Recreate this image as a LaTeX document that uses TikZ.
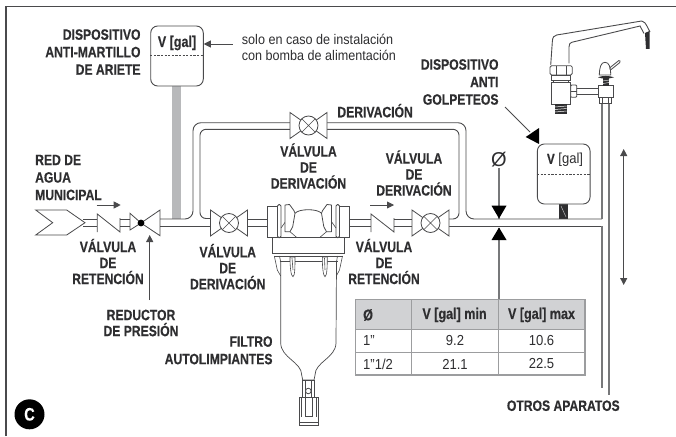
\documentclass[tikz,border=0pt]{standalone}
\usepackage{fontspec}
\setmainfont{Liberation Sans}
\newfontfamily\narrowfont[FakeStretch=0.9]{Liberation Sans}
\newfontfamily\narrowbold[FakeStretch=0.81,FakeBold=0.35]{Liberation Sans Bold}
\usetikzlibrary{arrows.meta}
\definecolor{ink}{HTML}{2E2E30}
\definecolor{lineink}{HTML}{4A4A4C}
\definecolor{grayink}{HTML}{77787A}
\definecolor{graypipe}{HTML}{B8B9BB}
\definecolor{headfill}{HTML}{D1D2D4}
\definecolor{gridline}{HTML}{9C9D9F}
\tikzset{
  lab/.style={text=ink,inner sep=0pt,align=center,font=\narrowbold\fontsize{15}{16}\selectfont},
  labtight/.style={lab,font=\narrowbold\fontsize{15}{17.5}\selectfont},
  note/.style={text=ink,inner sep=0pt,align=left,font=\narrowfont\fontsize{14}{16.3}\selectfont},
  cell/.style={text=ink,inner sep=0pt,font=\narrowfont\fontsize{14.5}{16}\selectfont},
  headcell/.style={text=ink,inner sep=0pt,font=\narrowbold\fontsize{15.5}{16}\selectfont},
  pipe/.style={draw=lineink,line width=0.9pt},
  part/.style={draw=lineink,line width=0.8pt,fill=white},
  thin part/.style={draw=lineink,line width=0.6pt},
  tank/.style={draw=lineink,line width=0.9pt,fill=white,rounded corners=7pt},
  lead/.style={draw=lineink,line width=0.9pt,-{Triangle[length=7pt,width=7pt]}},
  pics/xvalve/.style={code={
    \draw[part,line join=miter] (-18.5,-13) -- (18.5,13) -- (18.5,-13) -- (-18.5,13) -- cycle;
    \draw[part] (0,0) circle (9.5);
    \draw[thin part] (-6.7,-6.7) -- (6.7,6.7) (-6.7,6.7) -- (6.7,-6.7);
  }}
}
\begin{document}
\begin{tikzpicture}[x=1pt,y=-1pt]
\useasboundingbox (0,0) rectangle (676,436);
\fill[white] (0,0) rectangle (676,436);
% frame
\draw[draw=lineink,line width=1.2pt] (6,436) -- (6,6.5) -- (676,6.5);

% grey riser and lower tank stub
\fill[graypipe] (172.3,86) rectangle (181,219);
\fill[ink] (559,204) rectangle (568.3,219);
\draw[graypipe,line width=0.5pt] (561,206) -- (566,217);

% pipes
\draw[pipe] (83,219) -- (97,219) (83,226.7) -- (97,226.7);
\draw[pipe] (120,219) -- (130,219) (120,226.7) -- (130,226.7);
\draw[pipe,rounded corners=8pt] (160,219) -- (193,219) -- (193,122.7) -- (290,122.7);
\draw[pipe,rounded corners=6pt] (210.5,218.5) -- (200,218.5) -- (200,129.3) -- (290,129.3);
\draw[pipe] (160,226.7) -- (210.5,226.7);
\draw[pipe,rounded corners=8pt] (327,122.7) -- (466,122.7) -- (466,219) -- (602,219);
\draw[pipe,rounded corners=6pt] (327,129.3) -- (459,129.3) -- (459,219) -- (449,219);
\draw[pipe] (449,226.3) -- (602,226.3);
\draw[pipe] (247,219) -- (267.3,219) (247,226.7) -- (267.3,226.7);
\draw[pipe] (349.3,219) -- (371,219) (349.3,226.7) -- (371,226.7);
\draw[pipe] (394,219) -- (412,219) (394,226.7) -- (412,226.7);
% outlet riser
\draw[draw=grayink,line width=1.1pt] (602,103) -- (602,219);
\draw[draw=grayink,line width=1.1pt] (609,103) -- (609,395);
\draw[draw=grayink,line width=1.1pt] (602,226.3) -- (602,388);

% inlet connector
\draw[part,line join=miter] (35.7,210) -- (66.7,210) -- (85,222.7) -- (66.7,235) -- (35.7,235) -- (52.7,222.7) -- cycle;
% check valves
\draw[part,fill=none] (97.3,232) -- (97.3,214) -- (120,232) -- (120,218);
\draw[part,fill=none] (371,232) -- (371,214) -- (394,232) -- (394,218);
% reducer
\draw[part,fill=none,line join=miter] (130,213.3) -- (130,230) -- (141,223) -- cycle;
\draw[part,fill=none,line join=miter] (160,210) -- (160,235.7) -- (141,223) -- cycle;
\fill[black] (141,223) circle (3.4);
% valves
\pic at (308.5,125.5) {xvalve};
\pic at (229,223) {xvalve};
\pic at (430.5,223) {xvalve};

% filter bowl
\draw[part,line width=0.7pt] (280.7,262) -- (280.7,343) .. controls (281,358) and (301.7,362) .. (301.7,375) -- (302.7,380)
  -- (314,380) -- (315,375) .. controls (315,362) and (335.7,358) .. (336,343) -- (336.5,262);
% bowl rim and fins
\draw[thin part] (274.3,256) -- (342.5,256);
\draw[thin part] (279.5,261.7) -- (337.5,261.7);
\draw[thin part] (274.3,256) -- (277.3,270) -- (280.7,276);
\draw[thin part] (279.5,256) -- (280.7,262);
\draw[thin part] (342.5,256) -- (339.5,270) -- (336.3,276);
\draw[thin part] (337.5,256) -- (336.5,262);
\draw[thin part,fill=white] (290,257) .. controls (290,268) and (291,276) .. (293,276.7) .. controls (295,276) and (295,266) .. (295,257) -- cycle;
\draw[thin part,fill=white] (322.3,257) .. controls (322.3,268) and (323.3,276) .. (325,276.7) .. controls (327,276) and (327.3,266) .. (327.3,257) -- cycle;
\draw[thin part] (292,258) -- (293,270) (324.5,258) -- (325,270);
% filter head
\draw[part] (272.3,237.7) rectangle (344.3,253.3);
\draw[part] (267.3,206) rectangle (280,237.7);
\draw[part] (336.7,206) rectangle (349.3,237.7);
\draw[part,rounded corners=1.5pt] (277.5,204.5) rectangle (281,237.7);
\draw[part,rounded corners=1.5pt] (336,204.5) rectangle (339.5,237.7);
\draw[thin part] (281,228) -- (286,221) (336,228) -- (331,221);
\draw[thin part] (290,231.7) -- (297,237.7) (326.5,231.7) -- (319.5,237.7);
\draw[part,line join=round] (295,213.3) .. controls (299,208.5) and (317.5,208.5) .. (321.5,213.3);
\draw[part,line join=round] (285,205) -- (289.5,204.5) -- (294,210.7) -- (295,213.3) -- (292.7,226.7) -- (290,231.7) -- (285,231.7) -- cycle;
\draw[part,line join=round] (331.5,205) -- (327,204.5) -- (322.5,210.7) -- (321.5,213.3) -- (323.8,226.7) -- (326.5,231.7) -- (331.5,231.7) -- cycle;
% drain
\draw[part] (302.7,380) rectangle (314,397.3);
\draw[thin part] (305.5,380) -- (305.5,397.3) (311.5,380) -- (311.5,397.3);
\draw[part] (308.3,391) circle (2.8);
\fill[white] (308.3,391) circle (1.1);
\draw[part] (299.3,397.3) rectangle (318.3,425);
\draw[thin part] (299.3,422) -- (318.3,422);
\draw[thin part] (301.5,397.3) -- (301.5,417) (316,397.3) -- (316,417);
\draw[thin part] (305,397.3) -- (305,416.7) -- (312.3,416.7) -- (312.3,397.3);

% faucet
\draw[thin part,line width=0.9pt] (550.7,65) -- (552.3,42) .. controls (552.5,37) and (554,35.5) .. (556.7,35) -- (641.7,21) .. controls (644,21) and (645,22) .. (650,32);
\draw[thin part,line width=0.9pt] (569,63.3) -- (569,47) .. controls (569,44) and (570,42.8) .. (571.7,42.3) -- (640,26) -- (644,33.5);
\fill[ink] (645,33) -- (649.5,31) -- (649.5,49) -- (646,49) -- cycle;
\draw[part,rounded corners=1.5pt] (550,65.7) rectangle (572.3,75);
\draw[thin part] (556,66) -- (556,75) (566,66) -- (566,75);
\draw[part] (551.7,75) rectangle (570,80);
\draw[part] (553.5,80) rectangle (568.5,82.7);
\draw[part] (551.7,82.7) rectangle (570,104);
\fill[ink] (555,104) rectangle (566.7,114);
\foreach \ty in {106,108.5,111} \draw[white,line width=0.5pt] (555,\ty+1) -- (566.7,\ty);
\draw[part] (576,88.3) rectangle (598.3,94);
\draw[part,rounded corners=1pt] (570.7,85) rectangle (576.7,97.3);
\draw[thin part] (570.7,91) -- (576.7,91);
\draw[part] (598.3,85.7) rectangle (613.3,97.3);
\draw[part] (599.3,97.3) rectangle (611.7,103.3);
\draw[thin part] (602.5,97.3) -- (602.5,103.3) (608.5,97.3) -- (608.5,103.3);
\fill[ink] (602.7,78) rectangle (609.3,85.7);
\foreach \ty in {80,82.5} \draw[white,line width=0.4pt] (602.7,\ty+1) -- (609.3,\ty);
\fill[ink] (598,77.3) .. controls (602,75.5) and (609,75.5) .. (614,77.3) .. controls (609,79) and (602,79) .. (598,77.3) -- cycle;
\draw[part] (599.3,75) .. controls (599.5,67) and (601,62.3) .. (605,62.3) .. controls (609,62.3) and (610.7,67) .. (610.7,75) -- cycle;
\draw[part,rounded corners=1pt] (609.5,68) -- (619.5,60) -- (620.5,62) -- (610.5,70) -- cycle;

% tanks
\node[tank,minimum width=52.6pt,minimum height=60pt,inner sep=0pt] (tankA) at (177,56) {};
\draw[draw=lineink,line width=0.8pt,dash pattern=on 2.2pt off 1.4pt] (tankA.west |- 0,55.7) -- (tankA.east |- 0,55.7);
\node[headcell] (tankAtext) at (177,43) {V [gal]};
\node[tank,minimum width=52.7pt,minimum height=60pt,inner sep=0pt] (tankB) at (563.7,174) {};
\draw[draw=lineink,line width=0.8pt,dash pattern=on 2.2pt off 1.4pt] (tankB.west) -- (tankB.east);
\node[cell] (tankBtext) at (565,160) {{\narrowbold V} [gal]};

% labels
\node[labtight,align=right,anchor=east] (antimartillo) at (140.7,52) {DISPOSITIVO\\ANTI-MARTILLO\\DE ARIETE};
\node[note,anchor=west] (solo) at (241.7,47.5) {solo en caso de instalación\\con bomba de alimentación};
\node[labtight,align=left,anchor=west] (red) at (35,177.5) {RED DE\\AGUA\\MUNICIPAL};
\node[lab,anchor=east] (derivtop) at (413,110.7) {DERIVACIÓN};
\node[lab] (vd1) at (308.5,166) {VÁLVULA\\DE\\DERIVACIÓN};
\node[lab] (vd2) at (414,173) {VÁLVULA\\DE\\DERIVACIÓN};
\node[lab] (vd3) at (227.7,266.7) {VÁLVULA\\DE\\DERIVACIÓN};
\node[lab] (vr1) at (108,261.5) {VÁLVULA\\DE\\RETENCIÓN};
\node[lab] (vr2) at (384,261.5) {VÁLVULA\\DE\\RETENCIÓN};
\node[labtight,align=right,anchor=east] (anti) at (498.7,82) {DISPOSITIVO\\ANTI\\GOLPETEOS};
\node[lab] (reductor) at (141,323) {REDUCTOR\\DE PRESIÓN};
\node[labtight,align=right,anchor=east] (filtro) at (272.7,350.3) {FILTRO\\AUTOLIMPIANTES};
\node[lab] (otros) at (563.3,405.7) {OTROS APARATOS};
\node[text=ink,inner sep=0pt,font=\fontsize{20}{20}\selectfont] (dia) at (499,160) {Ø};

% table
\fill[headfill] (355.7,299.3) rectangle (585,329.3);
\draw[draw=gridline,line width=1.1pt] (355.7,299.3) rectangle (585,375);
\draw[draw=gridline,line width=1.1pt] (355.7,329.3) -- (585,329.3) (355.7,352.3) -- (585,352.3) (355.7,375) -- (585,375);
\draw[draw=gridline,line width=1.1pt] (411.7,299.3) -- (411.7,375) (498.3,299.3) -- (498.3,375);
\node[headcell,anchor=west] (h1) at (363,315) {Ø};
\node[headcell] (h2) at (454.5,315) {V [gal] min};
\node[headcell] (h3) at (541.5,315) {V [gal] max};
\node[cell,anchor=west] (a1) at (363,341) {1”};
\node[cell] (a2) at (455,341) {9.2};
\node[cell] (a3) at (541.5,341) {10.6};
\node[cell,anchor=west] (b1) at (363,364) {1”1/2};
\node[cell] (b2) at (455,364) {21.1};
\node[cell] (b3) at (541.5,364) {22.5};

% connectors
\coordinate (soloarrow) at (232.7,44);
\draw[lead] (soloarrow) -- (tankA.east |- soloarrow);
\coordinate (flow1a) at (96.7,205); \coordinate (flow1b) at (120.7,205);
\draw[lead] (flow1a) -- (flow1b);
\coordinate (flow2a) at (370,205); \coordinate (flow2b) at (394,205);
\draw[lead] (flow2a) -- (flow2b);
\coordinate (reducertip) at (149.7,235);
\coordinate (reducerfoot) at (149.7,300);
\draw[lead] (reducerfoot) -- (reducertip);
\coordinate (diatip) at (499,218.5);
\coordinate (diatipb) at (499,227.5);
\coordinate (tabletop) at (499,299.3);
\draw[draw=grayink,line width=1.1pt] (dia.south) -- (diatip);
\draw[draw=grayink,line width=1.1pt] (tabletop) -- (diatipb);
\fill[black] (diatip) -- (491.5,205.7) -- (506.5,205.7) -- cycle;
\fill[black] (diatipb) -- (491.5,240) -- (506.5,240) -- cycle;
\coordinate (antifoot) at (505,107); \coordinate (antitip) at (539,144);
\draw[draw=lineink,line width=0.9pt] (antifoot) -- (530,132);
\fill[black] (antitip) -- (539,128) -- (525.7,137) -- cycle;
\coordinate (dimtop) at (623.7,149); \coordinate (dimbottom) at (623.7,285);
\draw[draw=lineink,line width=0.9pt,{Triangle[length=7pt,width=7pt]}-{Triangle[length=7pt,width=7pt]}] (dimtop) -- (dimbottom);

% badge
\node[circle,fill=black,minimum size=30pt,inner sep=0pt,text=white,font=\narrowbold\fontsize{18}{18}\selectfont] (badge) at (29.5,414.3) {C};
\end{tikzpicture}
\end{document}
